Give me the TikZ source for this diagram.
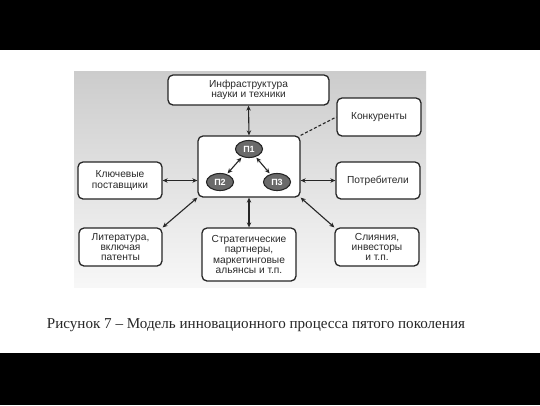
\documentclass[tikz,border=0pt]{standalone}
\usepackage{fontspec}
\setmainfont{Liberation Serif}
\newfontfamily\boxfont{Liberation Sans}
\usetikzlibrary{arrows.meta,shapes.geometric}
\definecolor{edge}{HTML}{262626}
\definecolor{txt}{HTML}{2A2A2A}
\definecolor{ellfill}{HTML}{6A6A6A}
\tikzset{
  boxnode/.style={draw=edge, line width=1.3bp, fill=white, rounded corners=5bp,
    align=center, inner sep=0pt, text=txt,
    font=\boxfont\fontsize{10.2bp}{10.2bp}\selectfont},
  pnode/.style={ellipse, draw=edge, line width=1.1bp, fill=ellfill, inner sep=0pt,
    minimum width=27bp, minimum height=17bp, text=white,
    font=\boxfont\bfseries\fontsize{9bp}{9bp}\selectfont},
  link/.style={line width=1.1bp, draw=edge, {Stealth[length=5bp,width=4.5bp]}-{Stealth[length=5bp,width=4.5bp]}},
  dlink/.style={line width=1.1bp, draw=edge, dash pattern=on 3bp off 2bp}
}
\begin{document}
\begin{tikzpicture}[x=1bp,y=-1bp]
\useasboundingbox (0,0) rectangle (540,405);
\fill[white] (0,0) rectangle (540,405);
\fill[black] (0,0) rectangle (540,50);
\fill[black] (0,353) rectangle (540,405);
\shade[top color=gray!40, bottom color=gray!6] (74,71) rectangle (426,287);

\node[boxnode, minimum width=161bp, minimum height=30bp] (infra) at (248.5,90) {Инфраструктура\\науки и техники};
\node[boxnode, minimum width=84bp, minimum height=38bp] (konk) at (379,117) {Конкуренты};
\node[boxnode, minimum width=102bp, minimum height=61bp] (core) at (249,166.5) {};
\node[boxnode, minimum width=84bp, minimum height=37bp] (klyuch) at (120,180.5) {Ключевые\\поставщики};
\node[boxnode, minimum width=84bp, minimum height=37bp] (potreb) at (378,180.5) {Потребители};
\node[boxnode, minimum width=83bp, minimum height=38bp] (lit) at (120.5,247) {Литература,\\включая\\патенты};
\node[boxnode, minimum width=94bp, minimum height=53bp] (strat) at (249,254.5) {Стратегические\\партнеры,\\маркетинговые\\альянсы и т.п.};
\node[boxnode, minimum width=84bp, minimum height=38bp] (sliy) at (377,247) {Слияния,\\инвесторы\\и т.п.};

\node[pnode] (p1) at (249,149) {П1};
\node[pnode] (p2) at (220,182) {П2};
\node[pnode] (p3) at (277,182) {П3};

\draw[link] (infra.south) -- (core.north);
\draw[link] (strat.north) -- (core.south);
\draw[link] (klyuch.east) -- (klyuch.east -| core.west);
\draw[link] (potreb.west) -- (potreb.west -| core.east);
\draw[link] (lit.north east) -- (core.south west);
\draw[link] (sliy.north west) -- (core.south east);
\draw[dlink] (core.north east) -- (konk.west);
\draw[link, shorten <=1bp, shorten >=1bp] (p1) -- (p2);
\draw[link, shorten <=1bp, shorten >=1bp] (p1) -- (p3);

\node[font=\fontsize{15.1bp}{18bp}\selectfont, text=black!85, inner sep=0pt] (cap) at (256,325) {Рисунок 7 – Модель инновационного процесса пятого поколения};
\end{tikzpicture}
\end{document}
